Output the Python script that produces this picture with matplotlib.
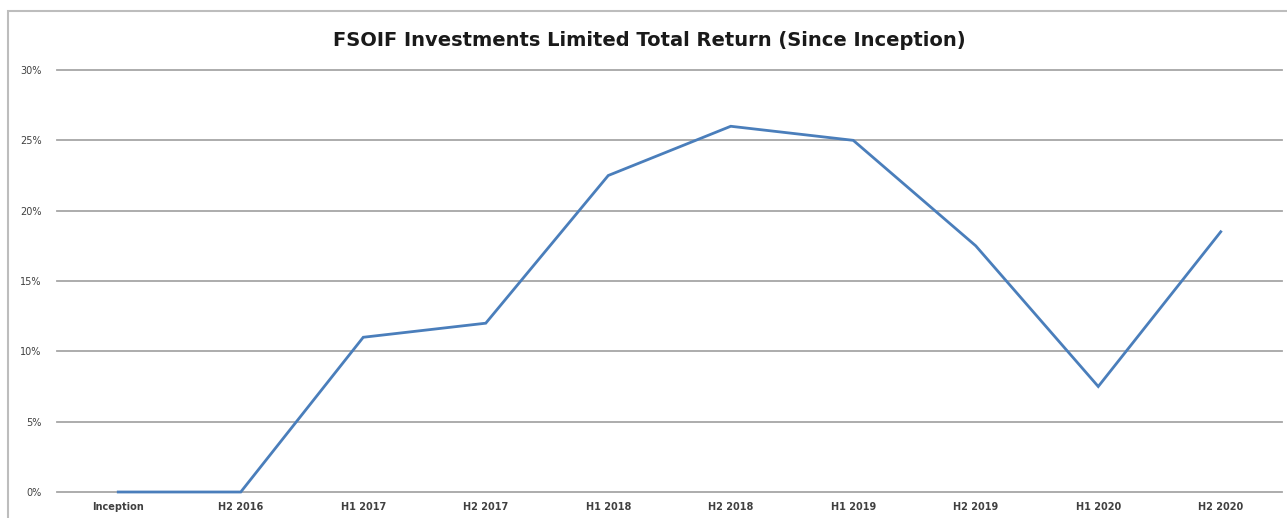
import numpy as np
import matplotlib.pyplot as plt
from matplotlib.patches import Rectangle
from matplotlib.ticker import PercentFormatter

periods = ['Inception', 'H2 2016', 'H1 2017', 'H2 2017', 'H1 2018',
           'H2 2018', 'H1 2019', 'H2 2019', 'H1 2020', 'H2 2020']
total_return = [0.0, 0.0, 11.0, 12.0, 22.5, 26.0, 25.0, 17.5, 7.5, 18.5]
y_ticks = [0, 5, 10, 15, 20, 25, 30]

fig = plt.figure(figsize=(12.87, 5.18), dpi=100)
ax = fig.add_axes([57 / 1287, 1 - 492 / 518, (1282 - 57) / 1287, (492 - 70) / 518])

# chart border (outer box of the original spreadsheet chart)
fig.patches.append(Rectangle((8 / 1287, -0.05), 1.2, 1 - 11 / 518 + 0.05,
                             transform=fig.transFigure, fill=False,
                             edgecolor='#bdbdbd', linewidth=1.5))

x = np.arange(len(periods))
ax.plot(x, total_return, color='#4a7ebb', linewidth=2.0, solid_joinstyle='miter',
        clip_on=False, zorder=3)

ax.set_xlim(-0.5, len(periods) - 0.5)
ax.set_ylim(0, 30)
ax.set_yticks(y_ticks)
ax.yaxis.set_major_formatter(PercentFormatter(decimals=0))
ax.set_xticks(x)
ax.set_xticklabels(periods, fontsize=7, fontweight='bold', color='#404040')
ax.tick_params(axis='y', labelsize=7, colors='#404040', length=0, pad=11)
ax.tick_params(axis='x', length=0, pad=7)
ax.grid(axis='y', color='#a6a6a6', linewidth=1.3)
for gl in ax.yaxis.get_gridlines():
    gl.set_clip_on(False)
ax.set_axisbelow(True)
for s in ax.spines.values():
    s.set_visible(False)

fig.text(649 / 1287, 1 - 40 / 518, 'FSOIF Investments Limited Total Return (Since Inception)',
         ha='center', va='center', fontsize=14, fontweight='bold', color='#1a1a1a')

fig.savefig('out.png', dpi=100)
